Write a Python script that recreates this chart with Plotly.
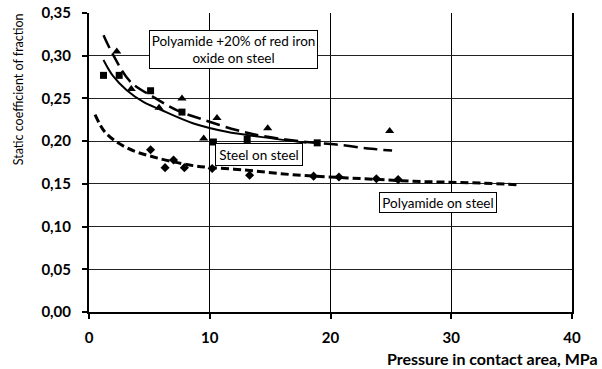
import plotly.graph_objects as go

# ---- data ----
steel_x = [1.2, 2.5, 5.1, 7.7, 10.3, 13.1, 18.9]
steel_y = [0.277, 0.277, 0.259, 0.234, 0.199, 0.202, 0.198]

pa20_x = [2.3, 3.5, 5.8, 7.7, 9.5, 10.6, 14.8, 24.9]
pa20_y = [0.305, 0.261, 0.239, 0.250, 0.203, 0.227, 0.215, 0.212]

pa_x = [5.1, 6.3, 7.0, 7.9, 10.2, 13.3, 18.6, 20.7, 23.8, 25.6]
pa_y = [0.190, 0.169, 0.178, 0.169, 0.168, 0.160, 0.159, 0.158, 0.156, 0.155]

steel_fit_x = [1.2, 2.0, 3.1, 4.5, 5.9, 8.6, 11.4, 14.2, 18.0]
steel_fit_y = [0.295, 0.276, 0.260, 0.246, 0.237, 0.221, 0.211, 0.205, 0.198]

pa20_fit_x = [1.2, 2.0, 3.4, 5.3, 7.3, 9.5, 12.2, 14.4, 18.0, 20.5, 23.4, 25.1]
pa20_fit_y = [0.324, 0.301, 0.270, 0.252, 0.236, 0.225, 0.213, 0.206, 0.199, 0.196, 0.191, 0.189]

pa_fit_x = [0.5, 1.3, 2.4, 3.8, 5.2, 6.9, 8.8, 10.2, 13.1, 15.8, 18.6, 21.4, 24.1, 26.9, 29.6, 32.4, 35.4]
pa_fit_y = [0.231, 0.211, 0.198, 0.188, 0.182, 0.176, 0.171, 0.169, 0.166, 0.162, 0.159, 0.157, 0.155, 0.153, 0.152, 0.151, 0.149]

x_ticks = [0, 10, 20, 30, 40]
y_ticks = [0.00, 0.05, 0.10, 0.15, 0.20, 0.25, 0.30, 0.35]

labels = ["Polyamide +20% of red iron<br>oxide on steel", "Steel on steel", "Polyamide on steel"]

FONT = "Lato"

fig = go.Figure()

fig.add_trace(go.Scatter(x=steel_fit_x, y=steel_fit_y, mode="lines", line=dict(color="black", width=2, shape="spline"), showlegend=False))
fig.add_trace(go.Scatter(x=pa20_fit_x, y=pa20_fit_y, mode="lines", line=dict(color="black", width=2.5, dash="14px,6px", shape="spline"), showlegend=False))
fig.add_trace(go.Scatter(x=pa_fit_x, y=pa_fit_y, mode="lines", line=dict(color="black", width=3, dash="8px,4px", shape="spline"), showlegend=False))

fig.add_trace(go.Scatter(x=steel_x, y=steel_y, mode="markers", marker=dict(symbol="square", size=7, color="black"), showlegend=False))
fig.add_trace(go.Scatter(x=pa20_x, y=pa20_y, mode="markers", marker=dict(symbol="triangle-up", size=8, color="black"), showlegend=False))
fig.add_trace(go.Scatter(x=pa_x, y=pa_y, mode="markers", marker=dict(symbol="diamond", size=7, color="black"), showlegend=False))

ann_common = dict(showarrow=False, bordercolor="black", borderwidth=1, bgcolor="white",
                  font=dict(family=FONT, size=13.5, color="black"), xref="x", yref="y")
fig.add_annotation(text=labels[0], x=11.97, y=0.3073, width=165, height=35, borderpad=1, **ann_common)
fig.add_annotation(text=labels[1], x=14.08, y=0.1844, width=84, height=19, borderpad=1, **ann_common)
fig.add_annotation(text=labels[2], x=28.9, y=0.1282, width=114, height=17, borderpad=1, **ann_common)

fig.add_annotation(text="Static coefficient of fraction", textangle=-90, xref="paper", yref="paper",
                   x=-0.147, y=0.745, xanchor="center", yanchor="middle", showarrow=False,
                   font=dict(family=FONT, size=12.5, color="black"))
fig.add_annotation(text="<b>Pressure in contact area, MPa</b>", xref="paper", yref="paper",
                   x=1.058, y=-0.154, xanchor="right", yanchor="middle", showarrow=False,
                   font=dict(family=FONT, size=16, color="black"))

fig.update_layout(
    width=602, height=369,
    margin=dict(l=89, r=30, t=13, b=57),
    paper_bgcolor="white", plot_bgcolor="white",
    showlegend=False,
    xaxis=dict(range=[0, 40], tickvals=x_ticks, ticktext=[f"<b>{v}</b>" for v in x_ticks],
               showgrid=True, gridcolor="black", gridwidth=1,
               showline=True, linecolor="black", linewidth=2,
               ticks="outside", ticklen=5, tickwidth=1.5, tickcolor="black", ticklabelstandoff=6,
               tickfont=dict(family=FONT, size=15, color="black"), zeroline=False, automargin=False),
    yaxis=dict(range=[0, 0.35], tickvals=y_ticks,
               ticktext=[f"<b>{v:.2f}</b>".replace(".", ",") for v in y_ticks],
               showgrid=True, gridcolor="#222", gridwidth=1,
               showline=True, linecolor="black", linewidth=2, mirror=True,
               ticks="outside", ticklen=5, tickwidth=1.5, tickcolor="black", ticklabelstandoff=8,
               tickfont=dict(family=FONT, size=15, color="black"), zeroline=False, automargin=False),
)

# remove the page's default 8px body margin so the figure fills the 602x369 window
fig.write_html("out.html", config={"displayModeBar": False},
               post_script="document.body.style.margin='0px';")
